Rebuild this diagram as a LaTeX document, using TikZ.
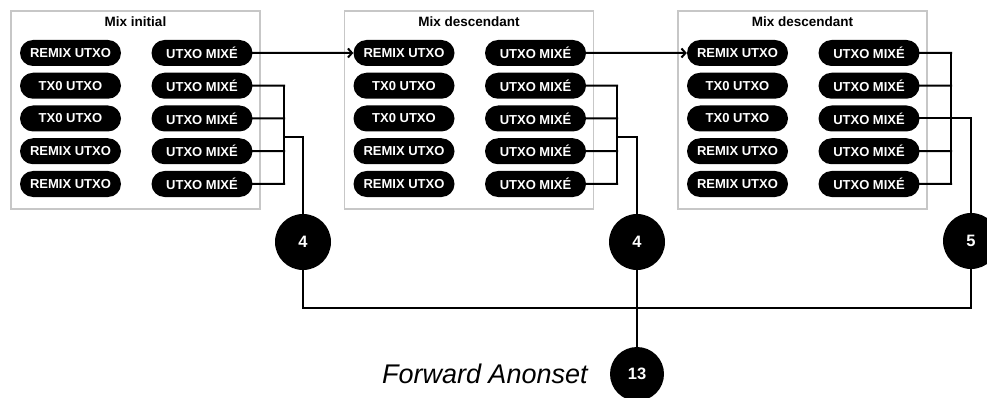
\documentclass[tikz,border=0pt]{standalone}
\usepackage{fontspec}
\setmainfont{Liberation Sans}
\usetikzlibrary{positioning, shapes.misc, arrows.meta}

\tikzset{
  mixbox/.style={draw=black!22, line width=1.5pt, minimum width=249pt, minimum height=198pt, inner sep=0pt},
  mixtitle/.style={font=\bfseries\fontsize{13.5}{14}\selectfont, inner sep=0pt},
  pill/.style={rounded rectangle, fill=black, text=white, font=\bfseries\fontsize{13}{14}\selectfont, minimum width=101pt, minimum height=26pt, inner sep=0pt},
  count/.style={circle, fill=black, text=white, font=\bfseries\fontsize{16.5}{17}\selectfont, minimum size=56pt, inner sep=0pt},
  anonset/.style={font=\itshape\fontsize{27}{28}\selectfont, inner sep=0pt},
  wire/.style={line width=2pt, line cap=rect},
}

\begin{document}
\begin{tikzpicture}[x=1pt, y=-1pt]
\clip (0,0) rectangle (987,398);
% Draw the three mixes
\foreach \b/\mixname in {1/Mix initial, 2/Mix descendant, 3/Mix descendant} {
  \pgfmathsetmacro\bx{11+333.5*(\b-1)}
  \node[mixbox] (box\b) at ({\bx+124.5},110) {};
  \node[mixtitle, below=6pt of box\b.north] (title\b) {\mixname};
  \foreach \r/\lbl in {1/REMIX UTXO, 2/TX0 UTXO, 3/TX0 UTXO, 4/REMIX UTXO, 5/REMIX UTXO} {
    \node[pill] (in-\b-\r) at ({\bx+59.5}, {53+32.75*(\r-1)}) {\lbl};
    \node[pill] (out-\b-\r) at ({\bx+191}, {53+32.75*(\r-1)}) {UTXO MIXÉ};
  }
}
% Draw the counts
\node[count] (n1) at (303,242) {4};
\node[count] (n2) at (637,242) {4};
\node[count] (n3) at (971,241) {5};
\node[count, minimum size=54pt] (total) at (637,374) {13};
\node[anonset, left=22pt of total] (label) {Forward Anonset};
% Remixes
\draw[wire, -{Straight Barb[length=4pt, width=9pt]}] (out-1-1) -- (in-2-1);
\draw[wire, -{Straight Barb[length=4pt, width=9pt]}] (out-2-1) -- (in-3-1);
% Outputs going out of the first two mixes
\foreach \b/\bus in {1/284, 2/617} {
  \coordinate (bus\b) at (\bus,0);
  \coordinate (j\b) at (\bus,137);
  \foreach \r in {2,...,5}
    \draw[wire] (out-\b-\r) -- (out-\b-\r -| bus\b);
  \draw[wire] (out-\b-2 -| bus\b) -- (out-\b-5 -| bus\b);
  \draw[wire] (j\b) -| (n\b);
}
% Outputs of the last mix
\coordinate (bus3) at (951,0);
\foreach \r in {1,2,4,5}
  \draw[wire] (out-3-\r) -- (out-3-\r -| bus3);
\draw[wire] (out-3-1 -| bus3) -- (out-3-5 -| bus3);
\draw[wire] (out-3-3) -| (n3);
% Sum of the counts
\coordinate (base) at (0,308);
\draw[wire] (n1) |- (base -| n3) -- (n3);
\draw[wire] (n2) -- (total);
\end{tikzpicture}
\end{document}
